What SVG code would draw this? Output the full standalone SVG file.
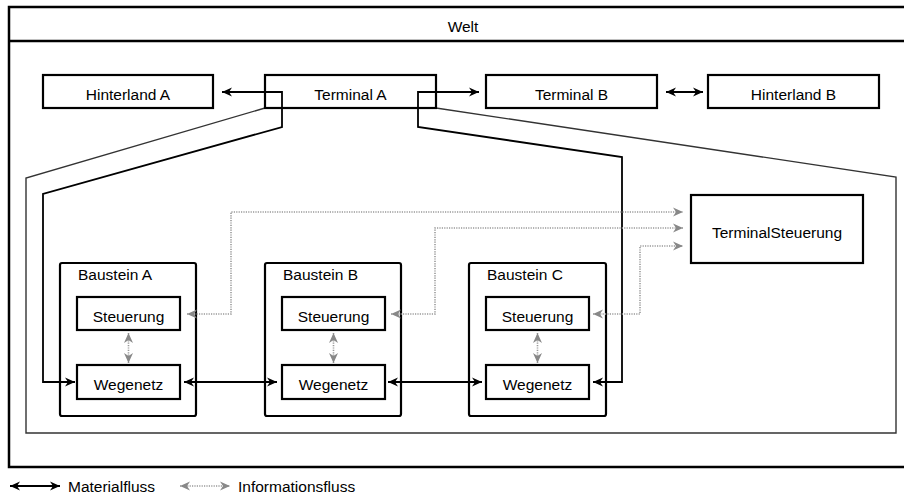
<svg xmlns="http://www.w3.org/2000/svg" width="904" height="500" viewBox="0 0 904 500">
<style>
text{font-family:"Liberation Sans",Arial,sans-serif;font-size:15.5px;fill:#000}
.c{text-anchor:middle}
.box{fill:#fff;stroke:#000;stroke-width:2.2}
.mat{fill:none;stroke:#000;stroke-width:1.8}
.inf{fill:none;stroke:#999;stroke-width:1.6;stroke-dasharray:1.2 1.2}
.zone{fill:none;stroke:#333;stroke-width:1.4}
</style>
<defs>
<marker id="ma" viewBox="0 0 10 10" refX="10" refY="5" markerWidth="10" markerHeight="10" markerUnits="userSpaceOnUse" orient="auto-start-reverse">
<path d="M0,0.5 L10,5 L0,9.5 L3,5 Z" fill="#000"/>
</marker>
<marker id="ia" viewBox="0 0 10 10" refX="10" refY="5" markerWidth="10" markerHeight="10" markerUnits="userSpaceOnUse" orient="auto-start-reverse">
<path d="M0,0.5 L10,5 L0,9.5 L3,5 Z" fill="#888"/>
</marker>
</defs>

<g id="welt">
<rect x="9" y="7" width="907" height="460" fill="#fff" stroke="#000" stroke-width="2.5"/>
<line x1="9" y1="41" x2="916" y2="41" stroke="#000" stroke-width="2.5"/>
<text x="463" y="32" class="c">Welt</text>
</g>

<g id="terminal-zone">
<polygon class="zone" points="265,108 26,178 26,433 896,433 896,177 436,108"/>
</g>

<g id="hinterland-a"><rect class="box" x="43" y="75" width="170" height="33"/><text x="128" y="100" class="c">Hinterland A</text></g>
<g id="terminal-a"><rect class="box" x="265" y="75" width="171" height="33" fill="none" style="fill:none"/><text x="350.5" y="100" class="c">Terminal A</text></g>
<g id="terminal-b"><rect class="box" x="486" y="75" width="171" height="33"/><text x="571.5" y="100" class="c">Terminal B</text></g>
<g id="hinterland-b"><rect class="box" x="708" y="75" width="171" height="33"/><text x="793.5" y="100" class="c">Hinterland B</text></g>
<g id="terminal-steuerung"><rect class="box" x="691" y="195" width="172" height="68"/><text x="777" y="238" class="c">TerminalSteuerung</text></g>

<g id="baustein-a">
<rect class="box" x="60" y="263" width="136" height="153" rx="2"/>
<text x="78" y="280">Baustein A</text>
<g id="steuerung-a"><rect class="box" x="77" y="297" width="103" height="33"/><text x="128.5" y="322" class="c">Steuerung</text></g>
<g id="wegenetz-a"><rect class="box" x="77" y="365" width="103" height="34"/><text x="128.5" y="390" class="c">Wegenetz</text></g>
</g>
<g id="baustein-b">
<rect class="box" x="265" y="263" width="136" height="153" rx="2"/>
<text x="283" y="280">Baustein B</text>
<g id="steuerung-b"><rect class="box" x="282" y="297" width="103" height="33"/><text x="333.5" y="322" class="c">Steuerung</text></g>
<g id="wegenetz-b"><rect class="box" x="282" y="365" width="103" height="34"/><text x="333.5" y="390" class="c">Wegenetz</text></g>
</g>
<g id="baustein-c">
<rect class="box" x="469" y="263" width="137" height="153" rx="2"/>
<text x="487" y="280">Baustein C</text>
<g id="steuerung-c"><rect class="box" x="486" y="297" width="103" height="33"/><text x="537.5" y="322" class="c">Steuerung</text></g>
<g id="wegenetz-c"><rect class="box" x="486" y="365" width="103" height="34"/><text x="537.5" y="390" class="c">Wegenetz</text></g>
</g>

<g id="connectors">
<path class="mat" d="M222,92 L282,92 L282,127 L43,194 L43,382 L75,382" marker-start="url(#ma)" marker-end="url(#ma)"/>
<path class="mat" d="M479,92 L418,92 L418,127 L622,157 L622,382 L593,382" marker-start="url(#ma)" marker-end="url(#ma)"/>
<path class="mat" d="M666,92 L703,92" marker-start="url(#ma)" marker-end="url(#ma)"/>
<path class="mat" d="M184,382 L277,382" marker-start="url(#ma)" marker-end="url(#ma)"/>
<path class="mat" d="M388,382 L482,382" marker-start="url(#ma)" marker-end="url(#ma)"/>
<path class="inf" d="M187,314 L231,314 L231,212 L683,212" marker-start="url(#ia)" marker-end="url(#ia)"/>
<path class="inf" d="M391,314 L435,314 L435,228 L683,228" marker-start="url(#ia)" marker-end="url(#ia)"/>
<path class="inf" d="M593,314 L640,314 L640,246 L683,246" marker-start="url(#ia)" marker-end="url(#ia)"/>
<path class="inf" d="M128.5,333 L128.5,363" marker-start="url(#ia)" marker-end="url(#ia)"/>
<path class="inf" d="M333.5,333 L333.5,363" marker-start="url(#ia)" marker-end="url(#ia)"/>
<path class="inf" d="M537.5,333 L537.5,363" marker-start="url(#ia)" marker-end="url(#ia)"/>
</g>

<g id="legend">
<path class="mat" d="M10,486 L60,486" marker-start="url(#ma)" marker-end="url(#ma)"/>
<text x="68" y="492">Materialfluss</text>
<path class="inf" d="M180,486 L230,486" marker-start="url(#ia)" marker-end="url(#ia)"/>
<text x="238" y="492">Informationsfluss</text>
</g>
</svg>
